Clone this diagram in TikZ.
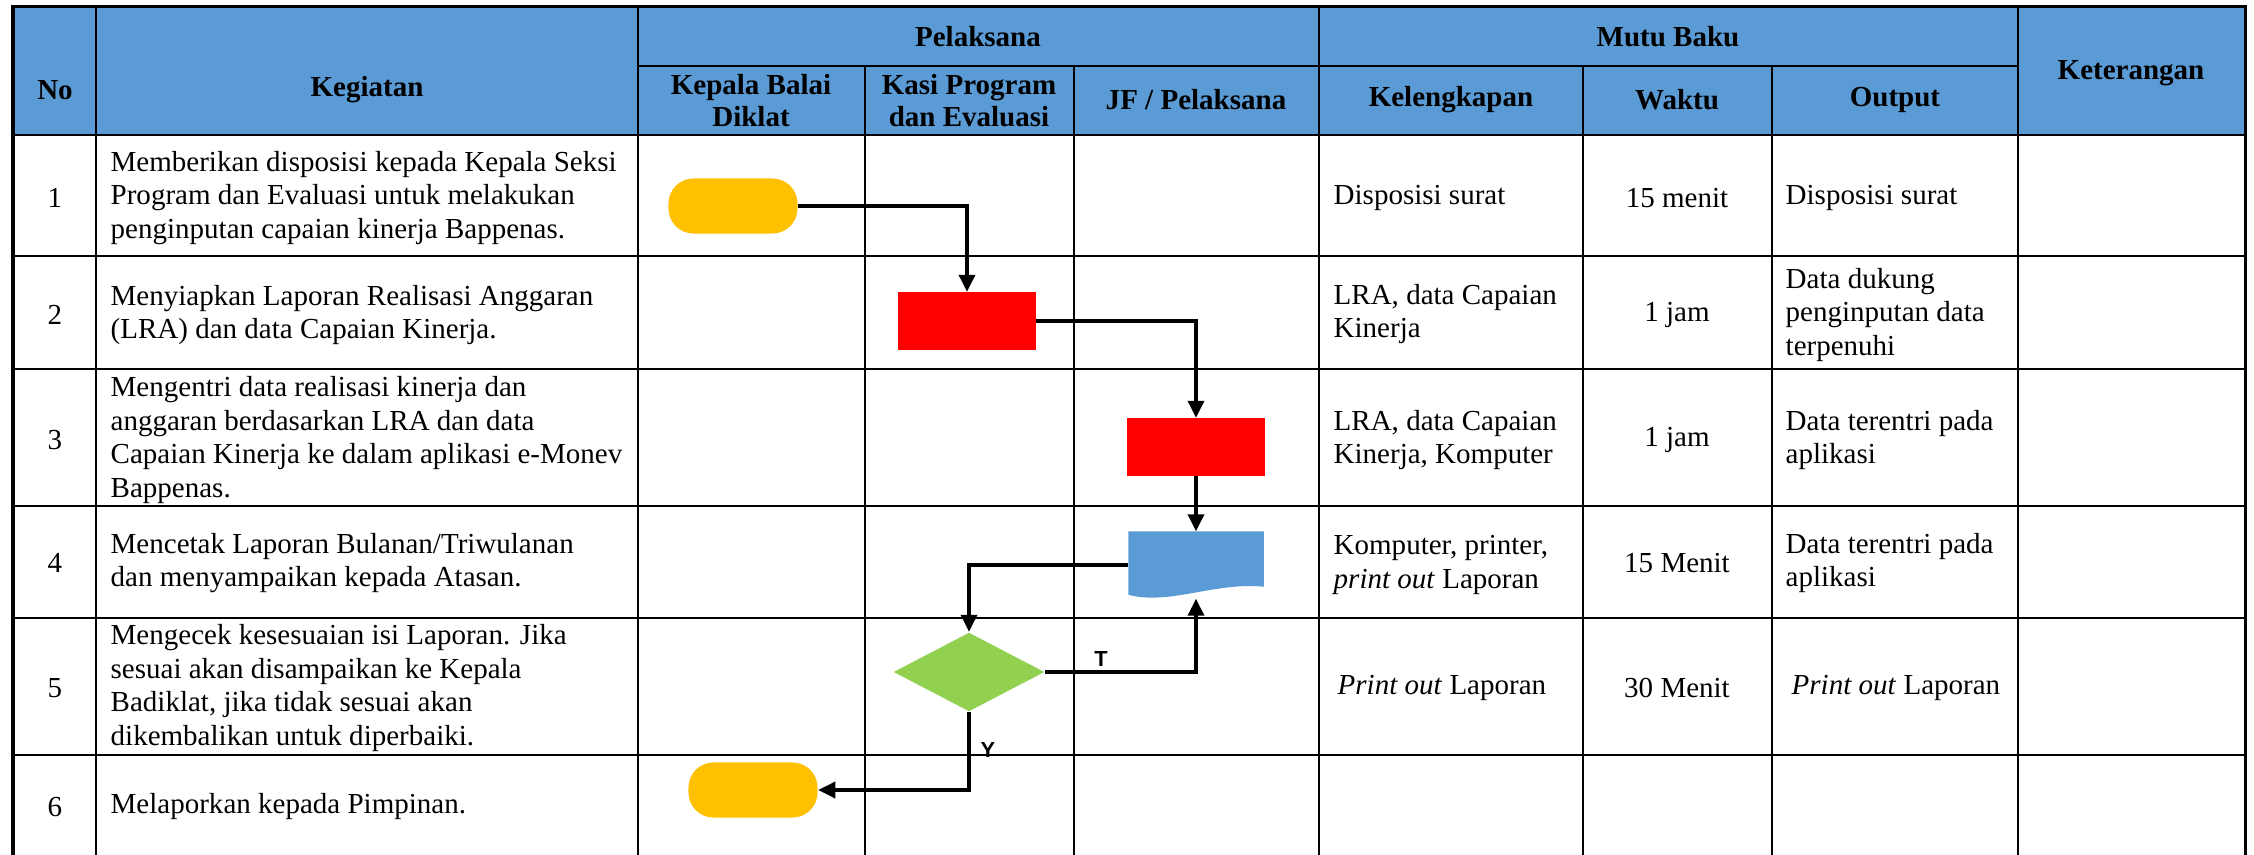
\documentclass[tikz,border=0pt]{standalone}
\usepackage{fontspec}
\setmainfont{Liberation Serif}
\newfontfamily\labelfont{Liberation Sans}
\usetikzlibrary{shapes.geometric,arrows.meta}

\definecolor{headblue}{RGB}{91,155,213}
\definecolor{termyellow}{RGB}{255,192,0}
\definecolor{procred}{RGB}{255,0,0}
\definecolor{decgreen}{RGB}{146,208,80}

\tikzset{
  cell/.style={inner sep=0pt, align=left, anchor=west, font=\fontsize{8.25}{9.53}\selectfont},
  mid/.style={inner sep=0pt, align=center, font=\fontsize{8.25}{9.53}\selectfont},
  head/.style={inner sep=0pt, align=center, font=\fontsize{8.25}{9.1}\selectfont\bfseries},
  grid/.style={line width=0.02cm},
  terminal/.style={rectangle, rounded corners=0.25cm, fill=termyellow, minimum width=1.29cm, minimum height=0.55cm, inner sep=0pt},
  process/.style={rectangle, fill=procred, minimum width=1.37cm, minimum height=0.57cm, inner sep=0pt},
  decision/.style={diamond, fill=decgreen, minimum width=1.51cm, minimum height=0.79cm, inner sep=0pt},
  docbox/.style={rectangle, minimum width=1.34cm, minimum height=0.66cm, inner sep=0pt},
  flow/.style={line width=0.035cm, -{Triangle[length=0.17cm, width=0.16cm]}},
  yesno/.style={inner sep=0pt, font=\labelfont\fontsize{6.2}{7}\selectfont\bfseries},
}

\begin{document}
\begin{tikzpicture}[x=0.01cm, y=-0.01cm]

    \useasboundingbox (0,0) rectangle (2254,855);

    % Header background
    \fill[headblue] (13,7) rectangle (2245,135);

    % Table rules
    \foreach \y in {135,256,369,506,618,755}
        \draw[grid] (13,\y) -- (2245,\y);
    \draw[grid] (638,66) -- (2018,66);
    \foreach \x in {96,638,1319,2018}
        \draw[grid] (\x,7) -- (\x,855);
    \foreach \x in {865,1074,1583,1772}
        \draw[grid] (\x,66) -- (\x,855);
    \draw[line width=0.03cm] (13,855) -- (13,7) -- (2245,7) -- (2245,855);

    % Header labels
    \node[head] (hNo) at (55,90) {No};
    \node[head] (hKeg) at (367,90) {Kegiatan};
    \node[head] (hPel) at (978,37) {Pelaksana};
    \node[head] (hMutu) at (1668,37) {Mutu Baku};
    \node[head] (hKepala) at (751,101) {Kepala Balai\\Diklat};
    \node[head] (hKasi) at (969,101) {Kasi Program\\dan Evaluasi};
    \node[head] (hJF) at (1196,100) {JF / Pelaksana};
    \node[head] (hKel) at (1451,100) {Kelengkapan};
    \node[head] (hWkt) at (1677,100) {Waktu};
    \node[head] (hOut) at (1895,100) {Output};
    \node[head] (hKet) at (2131,73) {Keterangan};

    % Row numbers
    \foreach \n/\y in {1/198,2/315,3/440,4/563,5/688,6/807}
        \node[mid] (no\n) at (55,\y) {\n};

    % Kegiatan
    \node[cell] (keg1) at (110,198) {Memberikan disposisi kepada Kepala Seksi\\Program dan Evaluasi untuk melakukan\\penginputan capaian kinerja Bappenas.};
    \node[cell] (keg2) at (110,315) {Menyiapkan Laporan Realisasi Anggaran\\(LRA) dan data Capaian Kinerja.};
    \node[cell] (keg3) at (110,440) {Mengentri data realisasi kinerja dan\\anggaran berdasarkan LRA dan data\\Capaian Kinerja ke dalam aplikasi e-Monev\\Bappenas.};
    \node[cell] (keg4) at (110,563) {Mencetak Laporan Bulanan/Triwulanan\\dan menyampaikan kepada Atasan.};
    \node[cell] (keg5) at (110,688) {Mengecek kesesuaian isi Laporan. Jika\\sesuai akan disampaikan ke Kepala\\Badiklat, jika tidak sesuai akan\\dikembalikan untuk diperbaiki.};
    \node[cell] (keg6) at (110,807) {Melaporkan kepada Pimpinan.};

    % Kelengkapan
    \node[cell] (kel1) at (1333,198) {Disposisi surat};
    \node[cell] (kel2) at (1333,314) {LRA, data Capaian\\Kinerja};
    \node[cell] (kel3) at (1333,440) {LRA, data Capaian\\Kinerja, Komputer};
    \node[cell] (kel4) at (1333,565) {Komputer, printer,\\\textit{print out} Laporan};
    \node[cell] (kel5) at (1337,688) {\textit{Print out} Laporan};

    % Waktu
    \node[mid] (wkt1) at (1677,198) {15 menit};
    \node[mid] (wkt2) at (1677,315) {1 jam};
    \node[mid] (wkt3) at (1677,440) {1 jam};
    \node[mid] (wkt4) at (1677,563) {15 Menit};
    \node[mid] (wkt5) at (1677,688) {30 Menit};

    % Output
    \node[cell] (out1) at (1785,198) {Disposisi surat};
    \node[cell] (out2) at (1785,315) {Data dukung\\penginputan data\\terpenuhi};
    \node[cell] (out3) at (1785,440) {Data terentri pada\\aplikasi};
    \node[cell] (out4) at (1785,563) {Data terentri pada\\aplikasi};
    \node[cell] (out5) at (1791,688) {\textit{Print out} Laporan};

    % Flow symbols
    \node[terminal] (start) at (733,206) {};
    \node[process] (prep) at (967,321) {};
    \node[process] (entry) at (1196,447) {};
    \node[docbox] (report) at (1196,565) {};
    \fill[headblue] (report.north west) -- (report.north east)
        -- ([yshift=0.12cm]report.south east)
        .. controls ([xshift=-0.48cm,yshift=0.17cm]report.south east)
        and ([xshift=0.40cm,yshift=-0.07cm]report.south west)
        .. ([yshift=0.04cm]report.south west) -- cycle;
    \node[decision] (check) at (969,672) {};
    \node[terminal] (finish) at (753,790) {};

    % Connectors
    \draw[flow] (start.east) -| (prep.north);
    \draw[flow] (prep.east) -| (entry.north);
    \draw[flow] (entry.south) -- (report.north);
    \draw[flow] (report.west) -| (check.north);
    \draw[flow] (check.east) -| (report.south);
    \draw[flow] (check.south) |- (finish.east);

    % Decision labels
    \node[yesno] (lblT) at (1101,659) {T};
    \node[yesno] (lblY) at (988,750) {Y};

\end{tikzpicture}
\end{document}
